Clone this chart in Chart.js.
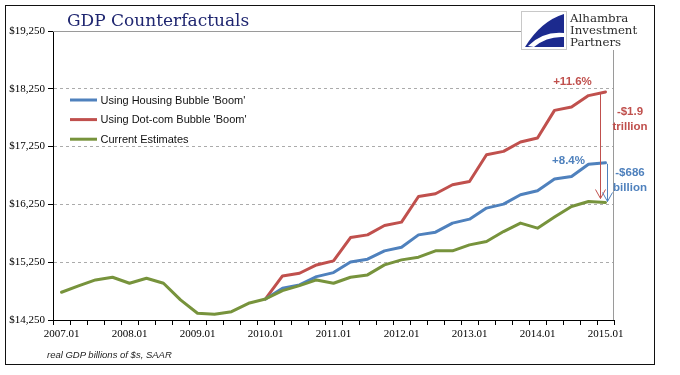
<!DOCTYPE html>
<html>
<head>
<meta charset="utf-8">
<script src="https://cdn.jsdelivr.net/npm/chart.js@4.4.1/dist/chart.umd.min.js"></script>
<style>
  html, body { margin: 0; padding: 0; background: #fff; }
  #wrap { position: relative; width: 680px; height: 375px; overflow: hidden; }
  #gdp { position: absolute; left: 0; top: 0; }
  #frame { position: absolute; left: 5px; top: 5px; width: 650px; height: 360px; border: 1.5px solid #111; box-sizing: border-box; pointer-events: none; }
  #title { position: absolute; left: 67px; top: 12px; font: 17px "DejaVu Serif", serif; line-height: 17px; color: #1f2670; white-space: nowrap; }
  #logo { position: absolute; left: 521px; top: 11px; }
  #logotext { position: absolute; left: 570px; top: 13px; font: 11.8px "DejaVu Serif", serif; line-height: 11.8px; color: #2b2b2b; }
  #note { position: absolute; left: 47px; top: 349px; font: italic 9.5px "Liberation Sans", Arial, sans-serif; color: #222; white-space: nowrap; }
</style>
</head>
<body>
<div id="wrap">
  <canvas id="gdp" width="680" height="375"></canvas>
  <div id="title">GDP Counterfactuals</div>
  <svg id="logo" width="46" height="39" viewBox="0 0 46 39">
    <rect x="0.5" y="0.5" width="45" height="38" fill="#fff" stroke="#c8c8c8"/>
    <path d="M43,3 Q20,10 4,36 L43,36 Z" fill="#1c2a8e"/>
    <path d="M7,35 Q22,20 43,22 L43,26 Q26,25 13,36 Z" fill="#fff"/>
  </svg>
  <div id="logotext">Alhambra<br>Investment<br>Partners</div>
  <div id="note">real GDP billions of $s, SAAR</div>
  <div id="frame"></div>
</div>
<script>
// quarters 2007Q1 - 2015Q1
const quarters = [
  "2007.01", "2007.02", "2007.03", "2007.04",
  "2008.01", "2008.02", "2008.03", "2008.04",
  "2009.01", "2009.02", "2009.03", "2009.04",
  "2010.01", "2010.02", "2010.03", "2010.04",
  "2011.01", "2011.02", "2011.03", "2011.04",
  "2012.01", "2012.02", "2012.03", "2012.04",
  "2013.01", "2013.02", "2013.03", "2013.04",
  "2014.01", "2014.02", "2014.03", "2014.04",
  "2015.01"
];

const currentEst = [
  14730, 14839, 14943, 14990,
  14886, 14973, 14886, 14597,
  14366, 14349, 14394, 14539,
  14614, 14758, 14844, 14943,
  14886, 14990, 15030, 15203,
  15290, 15337, 15446, 15446,
  15550, 15607, 15780, 15926,
  15839, 16030, 16214, 16300,
  16283
];

const dotcomBoom = [
  null, null, null, null,
  null, null, null, null,
  null, null, null, null,
  14614, 15013, 15059, 15203,
  15273, 15676, 15723, 15884,
  15943, 16387, 16434, 16590,
  16647, 17110, 17167, 17330,
  17399, 17877, 17936, 18132,
  18196
];

const housingBoom = [
  null, null, null, null,
  null, null, null, null,
  null, null, null, null,
  14614, 14799, 14857, 15000,
  15070, 15255, 15302, 15446,
  15510, 15723, 15770, 15926,
  15995, 16186, 16255, 16416,
  16486, 16688, 16733, 16945,
  16969
];

const yTicks = [14250, 15250, 16250, 17250, 18250, 19250];

const seriesNames = ["Using Housing Bubble 'Boom'", "Using Dot-com Bubble 'Boom'", "Current Estimates"];
const blue = "#4f81bd";
const red = "#c0504d";
const green = "#77933c";

const serif = '"Liberation Serif", "Times New Roman", serif';
const sans = '"Liberation Sans", Arial, sans-serif';

// legend, arrows, callouts
const extras = {
    id: "extras",
    afterDatasetsDraw(chart) {
        const ctx = chart.ctx;
        const a = chart.chartArea;
        const x = chart.scales.x;
        const y = chart.scales.y;
        const n = quarters.length - 1;

        ctx.save();
        // plot area border (top / right)
        ctx.strokeStyle = "#9a9a9a";
        ctx.lineWidth = 1;
        ctx.beginPath();
        ctx.moveTo(a.left, a.top + 0.5);
        ctx.lineTo(521, a.top + 0.5);
        ctx.moveTo(a.right - 0.5, 50);
        ctx.lineTo(a.right - 0.5, a.bottom);
        ctx.stroke();

        // legend
        ctx.font = "11px " + sans;
        ctx.textBaseline = "middle";
        ctx.textAlign = "left";
        const legendColors = [blue, red, green];
        seriesNames.forEach(function (name, i) {
            const ly = a.top + 69 + i * 19.6;
            ctx.strokeStyle = legendColors[i];
            ctx.lineWidth = 3;
            ctx.beginPath();
            ctx.moveTo(a.left + 17, ly);
            ctx.lineTo(a.left + 44, ly);
            ctx.stroke();
            ctx.fillStyle = "#111";
            ctx.fillText(name, a.left + 47.5, ly + 0.5);
        });

        // arrows
        const xl = x.getPixelForValue(n);
        const yG = y.getPixelForValue(currentEst[n]);
        const yR = y.getPixelForValue(dotcomBoom[n]);
        const yB = y.getPixelForValue(housingBoom[n]);
        function arrow(ax, y1, y2, col) {
            ctx.strokeStyle = col;
            ctx.lineWidth = 1;
            ctx.beginPath();
            ctx.moveTo(ax, y1);
            ctx.lineTo(ax, y2);
            ctx.moveTo(ax - 5, y2 - 9);
            ctx.lineTo(ax, y2);
            ctx.lineTo(ax + 5, y2 - 9);
            ctx.stroke();
        }
        arrow(Math.round(xl) - 5.5, yR + 1, yG - 4, red);
        arrow(Math.round(xl) + 1.5, yB + 1, yG - 1, blue);

        // callouts
        ctx.font = "bold 11.5px " + sans;
        ctx.textAlign = "center";
        ctx.fillStyle = red;
        ctx.fillText("+11.6%", xl - 33, yR - 10);
        ctx.fillText("-$1.9", a.right + 16, 112);
        ctx.fillText("trillion", a.right + 16, 127);
        ctx.fillStyle = blue;
        ctx.fillText("+8.4%", xl - 37, yB - 2);
        ctx.fillText("-$686", a.right + 16, 173);
        ctx.fillText("billion", a.right + 16, 188);
        ctx.restore();
    }
};

const gdpChart = new Chart(document.getElementById("gdp"), {
    type: "line",
    data: {
        labels: quarters,
        datasets: [
            { label: seriesNames[2], data: currentEst, borderColor: green, borderWidth: 3, order: 0 },
            { label: seriesNames[0], data: housingBoom, borderColor: blue, borderWidth: 3, order: 1 },
            { label: seriesNames[1], data: dotcomBoom, borderColor: red, borderWidth: 3, order: 2 },
        ],
    },
    options: {
        responsive: false,
        animation: false,
        devicePixelRatio: 1,
        layout: { padding: { left: 0, top: 31, right: 66, bottom: 0 } },
        elements: { point: { radius: 0 }, line: { tension: 0, borderCapStyle: "round", borderJoinStyle: "round" } },
        plugins: { legend: { display: false }, tooltip: { enabled: false } },
        scales: {
            x: {
                type: "category",
                offset: true,
                grid: { offset: true, drawOnChartArea: false, drawTicks: true, tickLength: 5, color: "#000" },
                border: { color: "#000", width: 1 },
                ticks: {
                    autoSkip: false,
                    maxRotation: 0,
                    padding: 3,
                    color: "#000",
                    font: { family: serif, size: 11 },
                    callback: function (v) {
                        const l = this.getLabelForValue(v);
                        return l.endsWith(".01") ? l : "";
                    },
                },
                afterFit: function (s) { s.height = 55; s.paddingLeft = 0; s.paddingRight = 0; },
            },
            y: {
                min: 14250,
                max: 19250,
                afterBuildTicks: function (s) { s.ticks = yTicks.map(v => ({ value: v })); },
                grid: {
                    color: c => (c.tick && c.tick.value > 14250 && c.tick.value < 19250) ? "#ababab" : "rgba(0,0,0,0)",
                    tickColor: "#000",
                    tickLength: 5,
                },
                border: { color: "#000", width: 1, dash: [3, 3] },
                ticks: {
                    padding: 3,
                    color: "#000",
                    font: { family: serif, size: 11 },
                    callback: v => "$" + v.toLocaleString("en-US"),
                },
                afterFit: function (s) { s.width = 53; s.paddingTop = 0; s.paddingBottom = 0; },
            },
        },
    },
    plugins: [extras],
});
</script>
</body>
</html>
